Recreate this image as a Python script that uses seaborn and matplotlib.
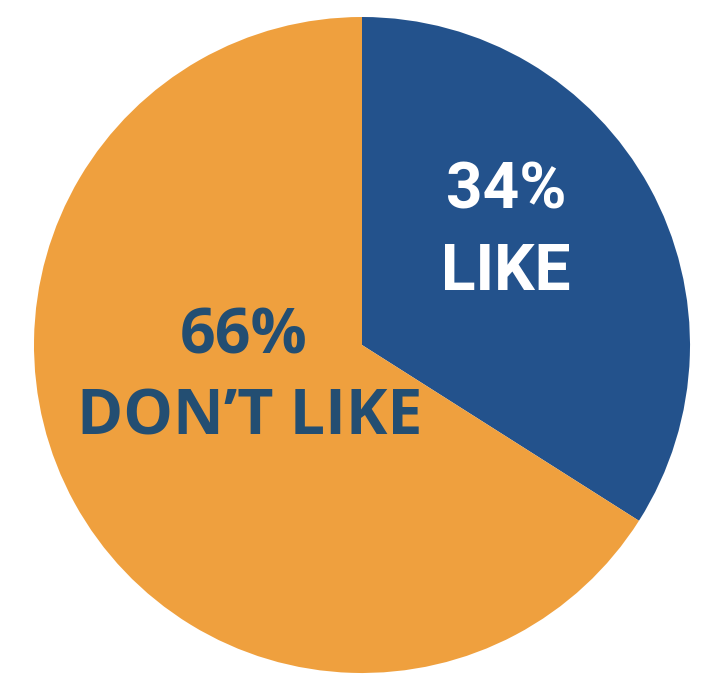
import matplotlib
matplotlib.use("Agg")
import matplotlib.pyplot as plt
import seaborn as sns

labels = ["LIKE", "DON\u2019T LIKE"]
values = [34, 66]
colors = ["#23528C", "#EFA03E"]

sns.set_theme(style="white")
plt.rcParams['font.family'] = ['Open Sans', 'DejaVu Sans']

W, H = 728, 696
fig = plt.figure(figsize=(W / 100, H / 100), dpi=100)
ax = fig.add_axes([0, 0, 1, 1])

cx, cy, r = 362, H - 345, 328
ax.pie(values, colors=colors, startangle=90, counterclock=False,
       center=(cx, cy), radius=r, wedgeprops=dict(linewidth=0),
       frame=True)
ax.set_xlim(0, W)
ax.set_ylim(0, H)
ax.set_aspect("equal")
ax.axis("off")

ax.text(506, H - 191, f"{values[0]}%", ha="center", va="center",
        color="white", fontsize=46, fontweight="bold", family=["Roboto", "DejaVu Sans"])
ax.text(506, H - 272, labels[0], ha="center", va="center",
        color="white", fontsize=46, fontweight="bold", family=["Roboto", "DejaVu Sans"])
ax.text(244, H - 337, f"{values[1]}%", ha="center", va="center",
        color="#234E72", fontsize=45, fontweight="bold", family=["Open Sans", "DejaVu Sans"])
ax.text(250, H - 418, labels[1], ha="center", va="center",
        color="#234E72", fontsize=45, fontweight="bold", family=["Open Sans", "DejaVu Sans"])

fig.savefig("out.png", dpi=100, facecolor="white")
